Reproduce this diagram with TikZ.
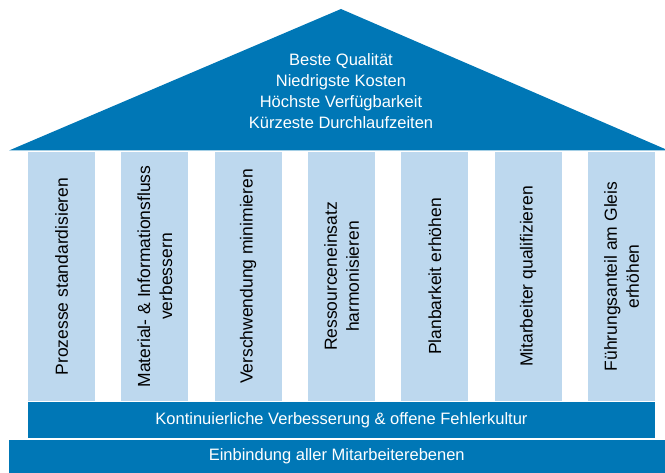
\documentclass[tikz,border=0pt]{standalone}
\usepackage{fontspec}
\setmainfont{Liberation Sans}
\definecolor{dblue}{RGB}{0,119,182}
\definecolor{lblue}{RGB}{189,216,238}
\begin{document}
\begin{tikzpicture}[x=1pt,y=-1pt,
  pillar/.style={fill=lblue, draw=none, rotate=90, minimum width=249pt, minimum height=67pt,
    inner sep=0pt, align=center, text=black, font=\fontsize{17.5}{22}\selectfont},
  bar/.style={fill=dblue, draw=none, inner sep=0pt, text=white, font=\fontsize{16.5}{21}\selectfont},
  rooftext/.style={text=white, align=center, font=\fontsize{16.5}{21}\selectfont}]
\useasboundingbox (0,0) rectangle (665,473);
\fill[dblue] (9,150.5) -- (341,9) -- (665,149) -- (665,150.5) -- cycle;
\node[rooftext] (roof) at (341,91) {Beste Qualität\\Niedrigste Kosten\\Höchste Verfügbarkeit\\Kürzeste Durchlaufzeiten};
\node[pillar] (p1) at (61.5,276.5) {Prozesse standardisieren};
\node[pillar] (p2) at (154.8,276.5) {Material- \& Informationsfluss\\verbessern};
\node[pillar] (p3) at (248.2,276.5) {Verschwendung minimieren};
\node[pillar] (p4) at (341.5,276.5) {Ressourceneinsatz\\harmonisieren};
\node[pillar] (p5) at (434.8,276.5) {Planbarkeit erhöhen};
\node[pillar] (p6) at (528.2,276.5) {Mitarbeiter qualifizieren};
\node[pillar] (p7) at (621.5,276.5) {Führungsanteil am Gleis\\erhöhen};
\node[bar, minimum width=627pt, minimum height=36pt] (kv) at (341.5,420) {Kontinuierliche Verbesserung \& offene Fehlerkultur};
\node[bar, minimum width=656.5pt, minimum height=33pt] (em) at (336.75,456.5) {Einbindung aller Mitarbeiterebenen};
\end{tikzpicture}
\end{document}
